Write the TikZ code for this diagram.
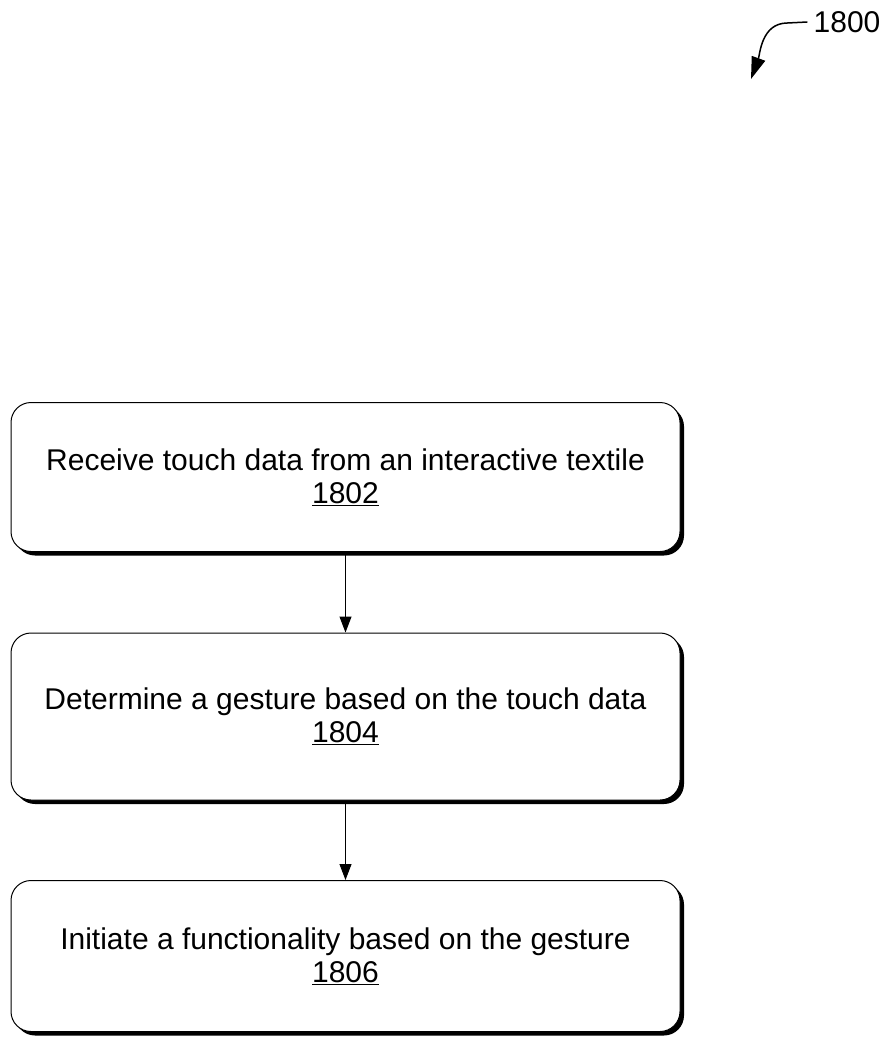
\documentclass[tikz,border=0pt]{standalone}
\usepackage{fontspec}
\setmainfont{Liberation Sans}
\usetikzlibrary{positioning}
\usetikzlibrary{shadows}
\usetikzlibrary{arrows.meta}

\tikzset{
  stepbox/.style={draw=black, line width=1pt, fill=white, rounded corners=20pt,
    align=center, minimum width=669pt, inner sep=0pt,
    font=\fontsize{30}{33}\selectfont,
    drop shadow={shadow xshift=4pt, shadow yshift=-4pt, fill=black, opacity=1}},
  flow/.style={line width=1pt, -{Triangle[length=16pt, width=12pt]}},
}

\begin{document}
\begin{tikzpicture}[x=1pt, y=-1pt]
		\useasboundingbox (0,0) rectangle (887,1038);
		\node (1802) [stepbox, minimum height=149pt] at (345.5,477)  {Receive touch data from an interactive textile\\\underline{1802}};
		\node (1804) [stepbox, minimum height=167pt] at (345.5,716.5)  {Determine a gesture based on the touch data\\\underline{1804}};
		\node (1806) [stepbox, minimum height=151pt] at (345.5,956)  {Initiate a functionality based on the gesture\\\underline{1806}};
		\draw [flow] (1802) to (1804);
		\draw [flow] (1804) to (1806);
		% figure number with its hooked arrow
		\node (1800) [font=\fontsize{30}{33}\selectfont, inner sep=0pt] at (847,22)  {1800};
		\coordinate (tip) at (751,79);
		\draw [line width=1.5pt, -{Triangle[length=22pt, width=14pt]}] ([xshift=-6pt]1800.west) -- ++(-20,1) to[out=180,in=70] (tip);
\end{tikzpicture}
\end{document}
